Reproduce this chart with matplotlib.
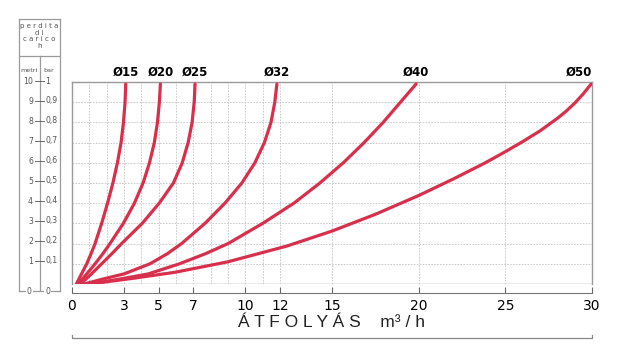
import numpy as np
import matplotlib
matplotlib.use("Agg")
import matplotlib.pyplot as plt
from matplotlib.transforms import blended_transform_factory

# Pipe sizes and their curves (flow m3/h vs head loss in metres)
pipe_labels = ["Ø15", "Ø20", "Ø25", "Ø32", "Ø40", "Ø50"]

q15 = [0.25, 0.55, 0.85, 1.1, 1.33, 1.71, 2.05, 2.36, 2.62, 2.83, 2.97, 3.06, 3.1]
h15 = [0, 0.5, 1, 1.5, 2, 3, 4, 5, 6, 7, 8, 9, 9.9]

q20 = [0.35, 0.85, 1.33, 1.78, 2.19, 2.96, 3.6, 4.1, 4.47, 4.75, 4.93, 5.04, 5.1]
h20 = [0, 0.5, 1, 1.5, 2, 3, 4, 5, 6, 7, 8, 9, 9.9]

q25 = [0.5, 1.12, 1.71, 2.3, 2.86, 4.05, 5.03, 5.85, 6.36, 6.7, 6.93, 7.05, 7.1]
h25 = [0, 0.5, 1, 1.5, 2, 3, 4, 5, 6, 7, 8, 9, 9.9]

q32 = [0.7, 1.8, 3.0, 4.5, 5.5, 6.32, 7.67, 8.82, 9.8, 10.55, 11.1, 11.48, 11.7, 11.82]
h32 = [0, 0.25, 0.5, 1, 1.5, 2, 3, 4, 5, 6, 7, 8, 9, 9.9]

q40 = [1.0, 2.8, 4.4, 6.2, 7.7, 9.0, 11.0, 12.8, 14.3, 15.65, 16.85, 17.95, 18.95, 19.85]
h40 = [0, 0.25, 0.5, 1, 1.5, 2, 3, 4, 5, 6, 7, 8, 9, 9.9]

q50 = [1.0, 3.5, 5.94, 9.0, 12.4, 15.0, 17.5, 20.0, 22.0, 23.8, 25.0, 26.0, 27.0, 28.0,
       28.5, 29.0, 29.5, 29.95]
h50 = [0, 0.28, 0.58, 1.1, 1.88, 2.62, 3.45, 4.38, 5.2, 5.98, 6.55, 7.05, 7.58, 8.2,
       8.55, 8.95, 9.42, 9.9]

x_ticks = [0, 3, 5, 7, 10, 12, 15, 20, 25, 30]
x_grid = [1, 2, 4, 6, 8, 9, 11]

# left scale
metri = [10, 9, 8, 7, 6, 5, 4, 3, 2, 1]
bar = ["1", "0,9", "0,8", "0,7", "0,6", "0,5", "0,4", "0,3", "0,2", "0,1"]

red = "#d8304c"
frame = "#9a9a9a"
grey_txt = "#555555"

fig = plt.figure(figsize=(6.29, 3.61), dpi=100)
ax = fig.add_axes([72 / 629, 77 / 361, 520 / 629, 202 / 361])

curves = [(q15, h15), (q20, h20), (q25, h25), (q32, h32), (q40, h40), (q50, h50)]
for (q, h), lab in zip(curves, pipe_labels):
    ax.plot(q, h, color=red, lw=2.3, solid_capstyle="round", solid_joinstyle="round", zorder=3)
    if lab == "Ø50":
        ax.text(q[-1] + 0.05, 10.15, lab, ha="right", va="bottom", fontsize=8.5,
                fontweight="bold", family="DejaVu Sans", clip_on=False)
    else:
        ax.text(q[-1], 10.15, lab, ha="center", va="bottom", fontsize=8.5,
                fontweight="bold", family="DejaVu Sans", clip_on=False)

ax.set_xlim(0, 30)
ax.set_ylim(0, 10)
ax.set_xticks(x_ticks)
ax.set_xticks(x_grid, minor=True)
ax.set_yticks(range(0, 11))
ax.set_yticklabels([])
ax.tick_params(axis="y", length=0)
ax.tick_params(axis="x", which="major", direction="in", length=4, width=0.8,
               color="#666666", pad=4)
ax.tick_params(axis="x", which="minor", length=0)
ax.set_xticklabels([str(t) for t in x_ticks])
for t in ax.xaxis.get_majorticklabels():
    t.set_fontsize(7.5)
    t.set_fontweight("bold")
    t.set_fontfamily("DejaVu Sans")
ax.grid(True, which="both", color="#c4c4c4", lw=0.6, linestyle=(0, (2, 1.5)))
ax.set_axisbelow(True)

for s in ["top", "left", "right"]:
    ax.spines[s].set_color(frame)
    ax.spines[s].set_linewidth(1.0)
ax.spines["bottom"].set_position(("outward", 6.5))
ax.spines["bottom"].set_color("#777777")
ax.spines["bottom"].set_linewidth(0.8)
ax.axhline(0, color=frame, lw=1.0, zorder=1)

ax.set_xlabel("Á T F O L Y Á S    m³ / h", fontsize=12.5, family=["Liberation Sans", "DejaVu Sans"],
              color="#222222", labelpad=2)

# bracket under the axis title
tr = blended_transform_factory(ax.transData, ax.transAxes)
ax.plot([0, 0, 30, 30], [-0.25, -0.268, -0.268, -0.25], color="#888888", lw=0.9,
        transform=tr, clip_on=False)

# left scale box: perdita di carico
lax = fig.add_axes([19 / 629, 70 / 361, 41 / 629, 272 / 361])
lax.set_xlim(0, 1)
lax.set_ylim(-0.5, 13.1)
lax.set_xticks([])
lax.set_yticks([])
for s in lax.spines.values():
    s.set_color(frame)
    s.set_linewidth(0.9)
lax.patch.set_alpha(0)

lax.axhline(11.25, color=frame, lw=0.9)
lax.plot([0.5, 0.5], [-0.5, 11.25], color=frame, lw=0.9)
lax.text(0.5, 12.25, "p e r d i t a\nd i\nc a r i c o\nh", ha="center", va="center",
         fontsize=5.0, color=grey_txt, linespacing=1.1)
lax.text(0.25, 10.55, "metri", ha="center", va="center", fontsize=4.6, color=grey_txt)
lax.text(0.72, 10.55, "bar", ha="center", va="center", fontsize=4.6, color=grey_txt)

for m, b in zip(metri, bar):
    lax.plot([0.4, 0.6], [m, m], color=grey_txt, lw=0.6)
    lax.text(0.34, m, str(m), ha="right", va="center", fontsize=5.6, color=grey_txt)
    lax.text(0.64, m, b, ha="left", va="center", fontsize=5.6, color=grey_txt)

for xx in [0.25, 0.7]:
    lax.text(xx, -0.5, "0", ha="center", va="center", fontsize=5.6, color=grey_txt,
             bbox=dict(facecolor="white", edgecolor="none", pad=0.6))

fig.savefig("out.png", dpi=100)
